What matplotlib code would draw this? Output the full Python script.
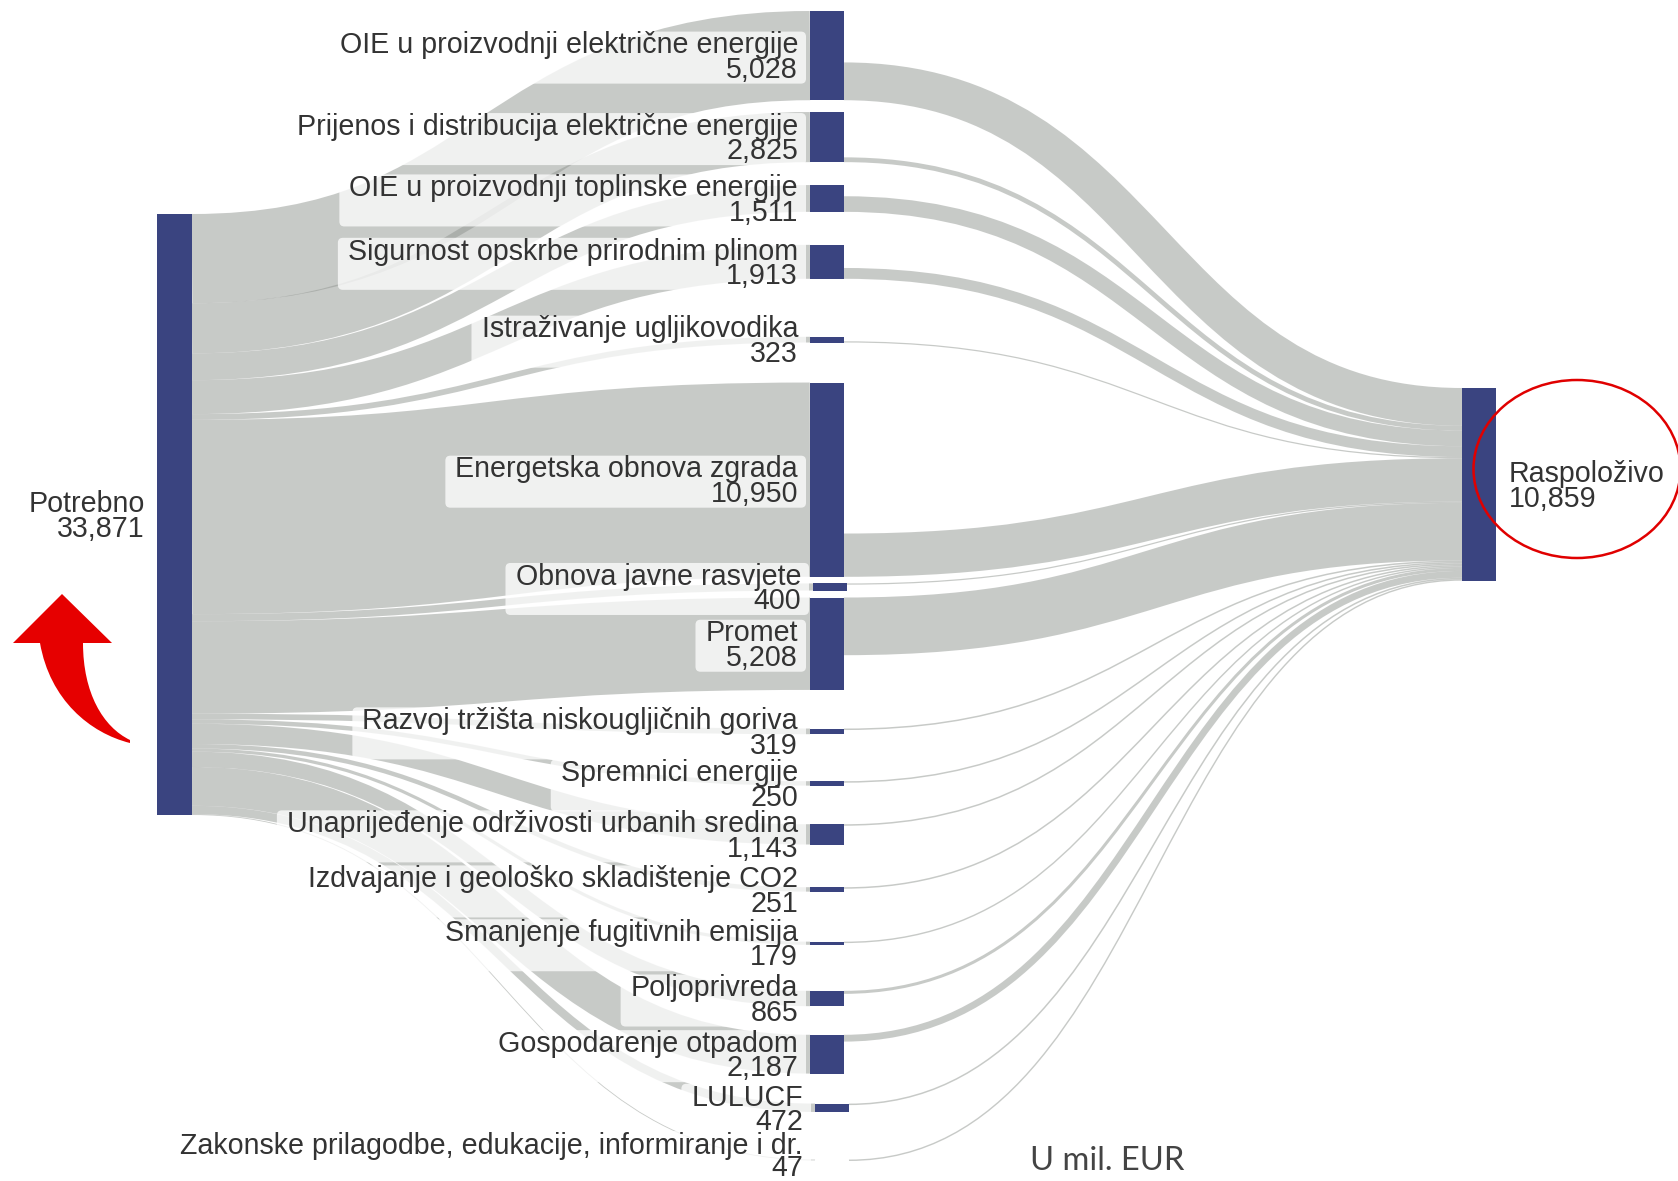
# Sankey: potrebna i raspoloziva sredstva po podrucjima
import matplotlib
matplotlib.use('Agg')
import matplotlib.pyplot as plt
from matplotlib.path import Path
from matplotlib.patches import PathPatch, Rectangle, Ellipse, FancyBboxPatch

#---------------------------------------------------------------------------------------------
# Data (mil. EUR)
categories = ['OIE u proizvodnji električne energije',
              'Prijenos i distribucija električne energije',
              'OIE u proizvodnji toplinske energije',
              'Sigurnost opskrbe prirodnim plinom',
              'Istraživanje ugljikovodika',
              'Energetska obnova zgrada',
              'Obnova javne rasvjete',
              'Promet',
              'Razvoj tržišta niskougljičnih goriva',
              'Spremnici energije',
              'Unaprijeđenje održivosti urbanih sredina',
              'Izdvajanje i geološko skladištenje CO2',
              'Smanjenje fugitivnih emisija',
              'Poljoprivreda',
              'Gospodarenje otpadom',
              'LULUCF',
              'Zakonske prilagodbe, edukacije, informiranje i dr.']
needed = [5028, 2825, 1511, 1913, 323, 10950, 400, 5208, 319, 250, 1143, 251, 179, 865, 2187, 472, 47]
# Not labelled in the source, read from the ribbon widths on the right
available = [2130, 270, 880, 610, 70, 2440, 70, 3250, 85, 85, 85, 85, 80, 170, 384, 85, 80]
total_needed = 33871
total_available = 10859

#---------------------------------------------------------------------------------------------
# Layout (figure pixels)
W, H = 1678, 1181
scale = 601.0 / total_needed
left_x = (157, 192)
mid_x = (810, 844)
right_x = (1462, 1496)
left_top = 214
right_top = 388
first_top = 11
node_gaps = [11.8, 22.9, 33, 58, 40, 6.6, 7, 38.6, 47, 38.6, 42.7, 50, 46, 28.6, 30, 47.6]
node_shift = [0, 0, 0, 0, 0, 0, 3, 0, 0, 0, 0, 0, 0, 0, 0, 5, 5]
navy = '#3a4480'
link_color = (0.57, 0.59, 0.57, 0.5)
text_color = '#333333'
font_size = 20.6
line_space = 0.84

plt.rcParams['font.family'] = ['Liberation Sans', 'DejaVu Sans']

fig = plt.figure(figsize=(W / 100, H / 100), dpi=100)
ax = fig.add_axes([0, 0, 1, 1])
ax.set_xlim(0, W)
ax.set_ylim(H, 0)
ax.axis('off')


def link(x0, y0, x1, y1, width):
    # Stroked curve between the centres of the two ends
    xm = (x0 + x1) / 2
    path = Path([(x0, y0), (xm, y0), (xm, y1), (x1, y1)],
                [Path.MOVETO, Path.CURVE4, Path.CURVE4, Path.CURVE4])
    ax.add_patch(PathPatch(path, fc='none', ec=link_color, lw=width * 0.72, capstyle='butt', zorder=1))


# Node positions
tops = [first_top]
for i in range(1, len(needed)):
    tops.append(tops[-1] + needed[i - 1] * scale + node_gaps[i - 1])

right_center = right_top + total_available * scale / 2
y_left = left_top
y_right = right_top
labels = []

for i, name in enumerate(categories):
    h = needed[i] * scale
    a = available[i] * scale
    x0 = mid_x[0] + node_shift[i]
    x1 = mid_x[1] + node_shift[i]

    # Links: needed on the left, available on the right
    link(left_x[1], y_left + h / 2, x0, tops[i] + h / 2, h)
    if tops[i] + h / 2 < right_center:
        start = tops[i] + h - a
    else:
        start = tops[i]
    link(x1, start + a / 2, right_x[0], y_right + a / 2, a)
    y_left += h
    y_right += a

    ax.add_patch(Rectangle((x0, tops[i]), x1 - x0, h, fc=navy, ec='none', zorder=3))
    # The last label sits against the bottom edge, with tighter lines
    last = i == len(categories) - 1
    y_text = tops[i] + h / 2 + (-3 if last else 2)
    t = ax.text(x0 - 12, y_text, name + '\n' + format(needed[i], ','), ha='right', va='center',
                multialignment='right', fontsize=font_size, linespacing=0.72 if last else line_space,
                color=text_color, zorder=2.5)
    labels.append(t)

# Half transparent label backgrounds, sized from the text
fig.canvas.draw()
renderer = fig.canvas.get_renderer()
for t in labels:
    bb = t.get_window_extent(renderer)
    x_text = t.get_position()[0]
    yc = t.get_position()[1]
    ax.add_patch(FancyBboxPatch((x_text - bb.width - 5, yc - 21), bb.width + 8, 42,
                                boxstyle='round,pad=5,rounding_size=5', fc=(1, 1, 1, 0.75), ec='none', zorder=2))

# Outer nodes
ax.add_patch(Rectangle((left_x[0], left_top), left_x[1] - left_x[0], total_needed * scale, fc=navy, ec='none', zorder=3))
ax.add_patch(Rectangle((right_x[0], right_top), right_x[1] - right_x[0], total_available * scale, fc=navy, ec='none', zorder=3))

ax.text(left_x[0] - 12, left_top + total_needed * scale / 2 + 2, 'Potrebno\n' + format(total_needed, ','),
        ha='right', va='center', multialignment='right', fontsize=font_size, linespacing=line_space, color=text_color, zorder=4)
ax.text(right_x[1] + 13, right_center + 2, 'Raspoloživo\n' + format(total_available, ','),
        ha='left', va='center', multialignment='left', fontsize=font_size, linespacing=line_space, color=text_color, zorder=4)

ax.text(1030, 1161, 'U mil. EUR', ha='left', va='center', fontsize=23.5, family='Lato', color='#444444', zorder=4)

#---------------------------------------------------------------------------------------------
# Annotations: red circle and arrow
ax.add_patch(Ellipse((1577, 469), 207, 178, fc='none', ec='#e00000', lw=1.8, zorder=5))

arrow_verts = [(62, 594), (112, 643), (83, 643), (83, 693), (103, 727), (130, 740), (130, 743),
               (90, 733), (50, 700), (40, 643), (13, 643), (62, 594)]
arrow_codes = [Path.MOVETO, Path.LINETO, Path.LINETO, Path.CURVE4, Path.CURVE4, Path.CURVE4, Path.LINETO,
               Path.CURVE4, Path.CURVE4, Path.CURVE4, Path.LINETO, Path.CLOSEPOLY]
ax.add_patch(PathPatch(Path(arrow_verts, arrow_codes), fc='#e60000', ec='none', zorder=5))

plt.savefig('out.png', dpi=100)
